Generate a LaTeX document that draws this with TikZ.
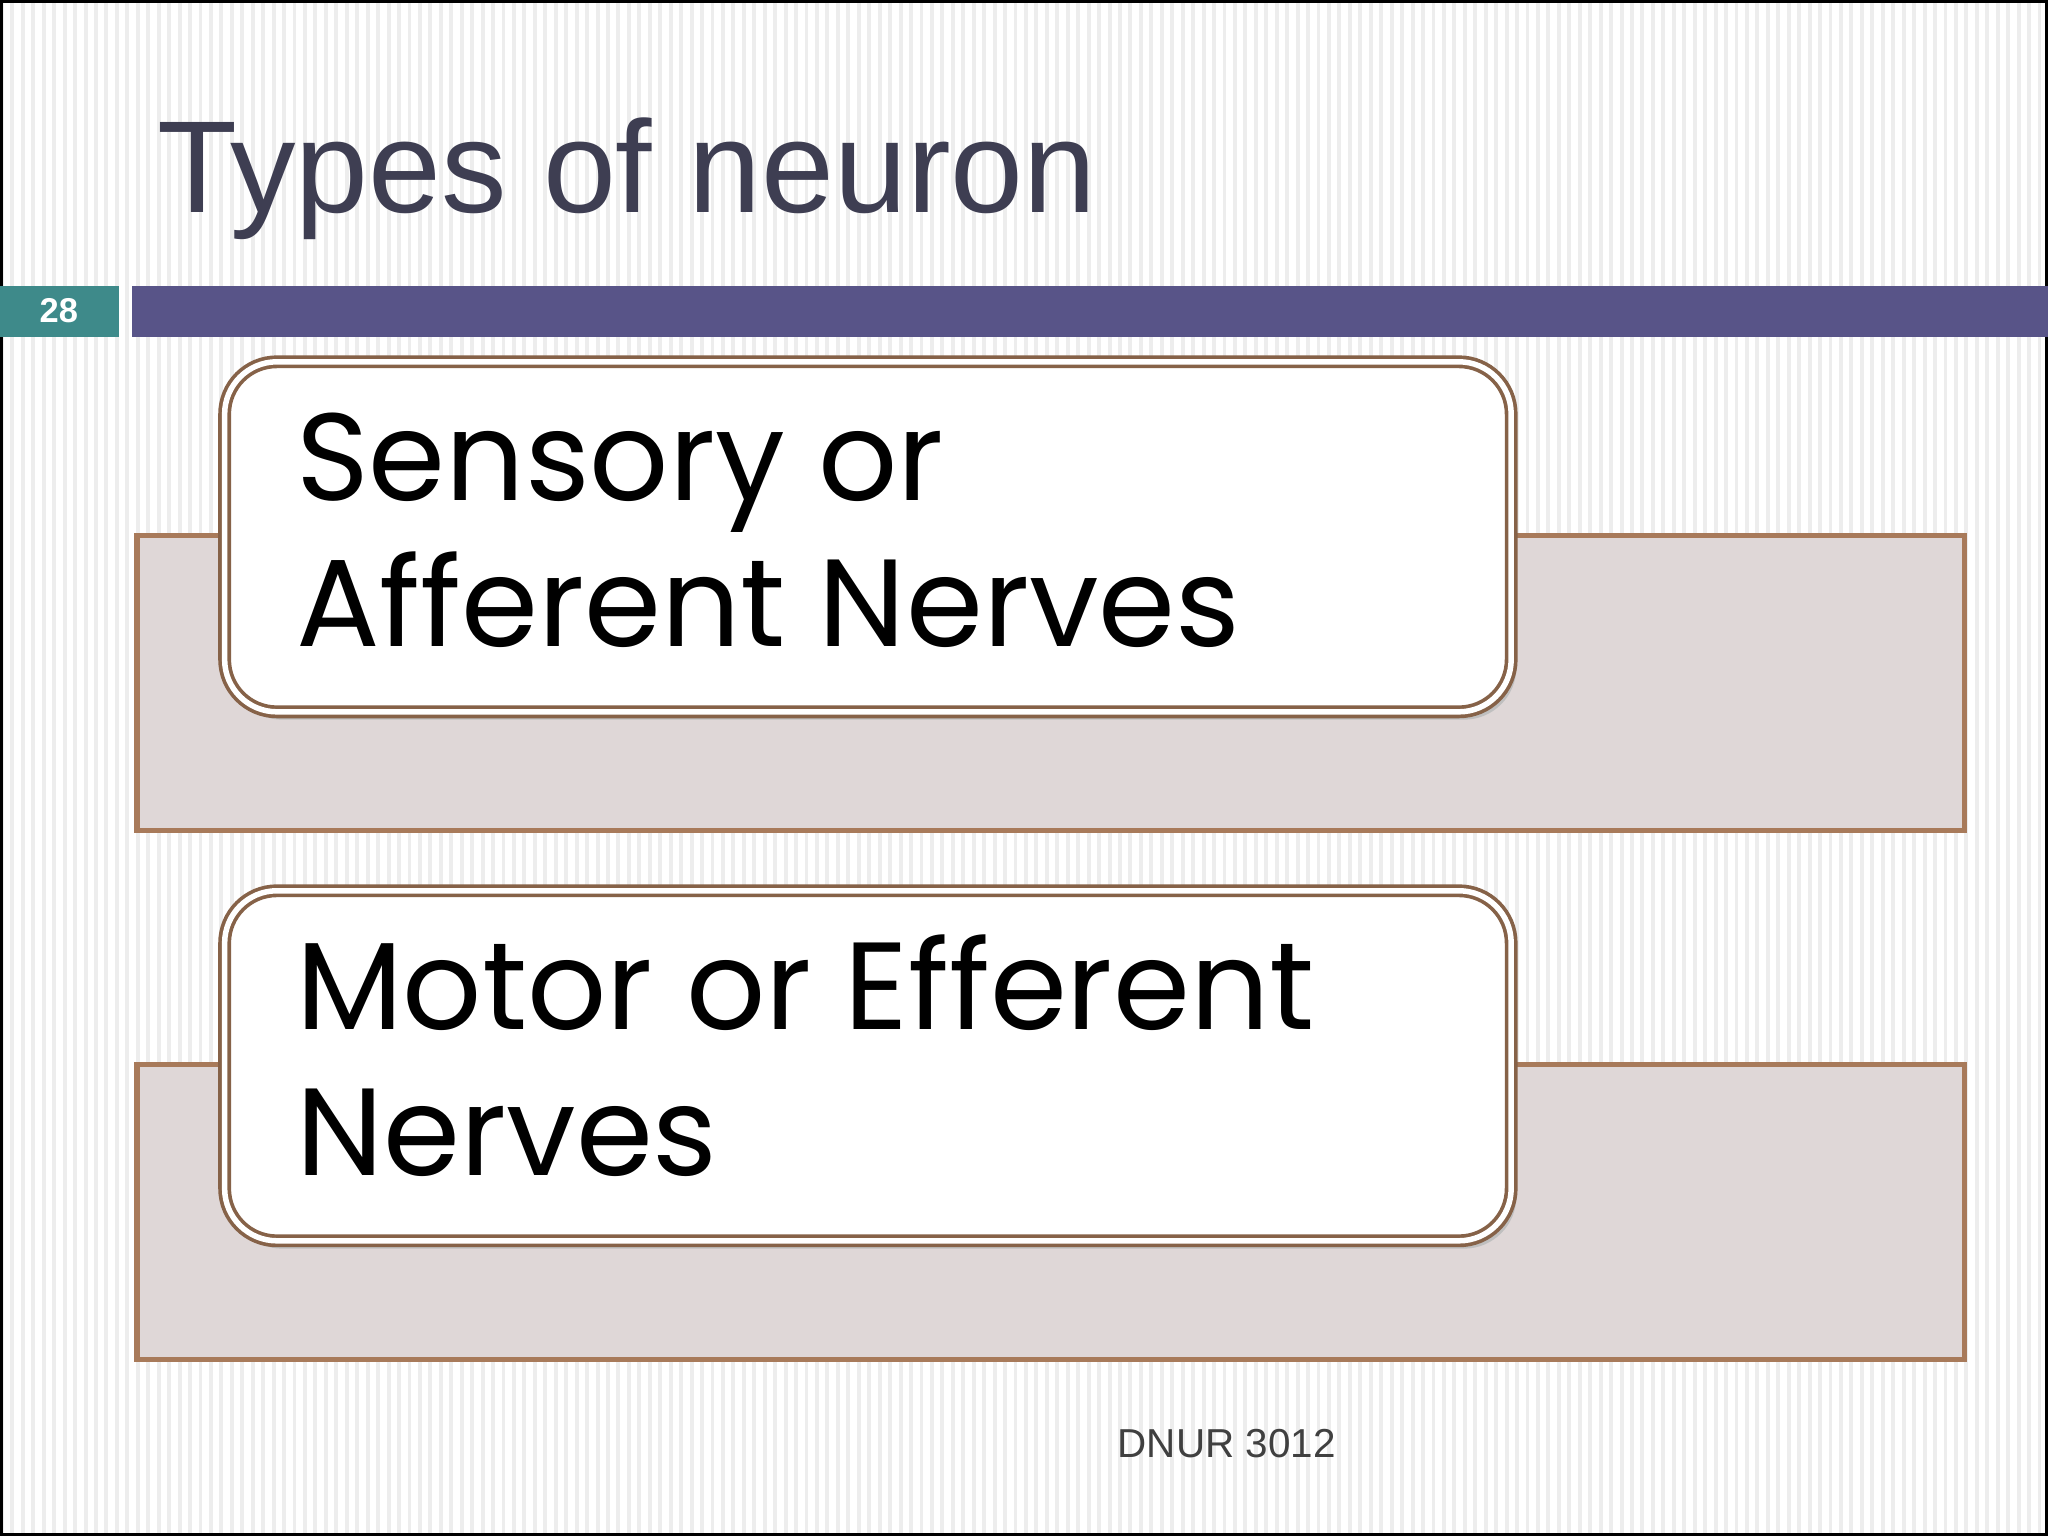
\documentclass[tikz,border=0pt]{standalone}
\usepackage{fontspec}
\setmainfont{Liberation Sans}
\newfontfamily\boxfont{Poppins}
\definecolor{titlec}{HTML}{3E3E52}
\definecolor{barc}{HTML}{585488}
\definecolor{tealc}{HTML}{3E8A8A}
\definecolor{grayfill}{HTML}{DFD7D7}
\definecolor{brownc}{HTML}{A87A5A}
\definecolor{stripe}{HTML}{EDEDED}
\tikzset{
 backrect/.style={draw=brownc,line width=1.2pt,fill=grayfill},
 whitebox/.style={draw=brownc!80!black,double=white,double distance=1.2pt,line width=0.8pt,fill=white,rounded corners=0.4cm},
 boxtext/.style={anchor=base west,font=\boxfont\fontsize{27}{27}\selectfont,inner sep=0}
}
\begin{document}
\begin{tikzpicture}[x=0.01cm,y=-0.01cm]
\useasboundingbox (0,0) rectangle (1568,1176);
\fill[white] (0,0) rectangle (1568,1176);
\foreach \i in {0,8,...,1560} {\fill[stripe] (\i,0) rectangle (\i+3,1176);}
\draw[black,line width=0.6pt] (1,1175) -- (1,1) -- (1567,1) -- (1567,1175) -- cycle;
\node[anchor=base west,text=titlec,font=\fontsize{28.5}{30}\selectfont,inner sep=0] (title) at (120,163) {Types of neuron};
\fill[tealc] (0,219) rectangle (91,258);
\node[text=white,font=\bfseries\fontsize{7.5}{8}\selectfont] (num) at (45,238) {28};
\fill[barc] (101,219) rectangle (1568,258);
\draw[backrect] (105,410) rectangle (1504,636);
\draw[backrect] (105,815) rectangle (1504,1041);
\fill[black!25,rounded corners=0.4cm] (176,283) rectangle (1161,551);
\draw[whitebox] (172,277) rectangle (1157,545);
\fill[black!25,rounded corners=0.4cm] (176,688) rectangle (1161,956);
\draw[whitebox] (172,682) rectangle (1157,950);
\node[boxtext] (s1) at (226,383) {Sensory or};
\node[boxtext] (s2) at (226,495) {Afferent Nerves};
\node[boxtext] (m1) at (226,788) {Motor or Efferent};
\node[boxtext] (m2) at (226,900) {Nerves};
\node[anchor=base west,text=black!75,font=\fontsize{8.8}{10}\selectfont,inner sep=0] (foot) at (855,1116) {DNUR 3012};
\end{tikzpicture}
\end{document}
